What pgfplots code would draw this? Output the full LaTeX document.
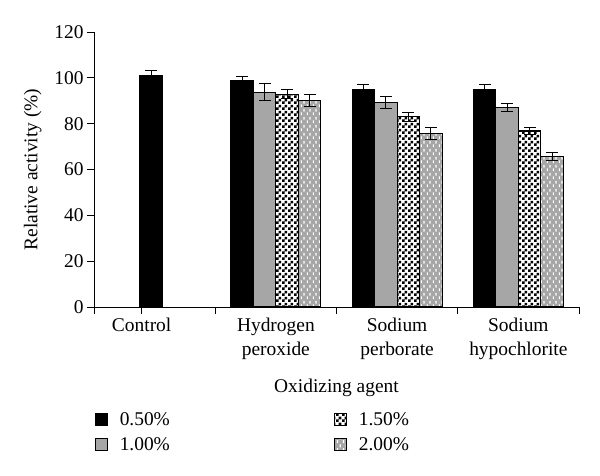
\documentclass[border=0pt]{standalone}
\usepackage{fontspec}
\setmainfont{Liberation Serif}
\usepackage{pgfplots}
\pgfplotsset{compat=1.18}
\usetikzlibrary{patterns}

\pgfdeclarepatternformonly{mychecker}{\pgfpointorigin}{\pgfpoint{6bp}{6bp}}{\pgfpoint{6bp}{6bp}}{%
 \pgfpathrectangle{\pgfpointorigin}{\pgfpoint{3bp}{3bp}}%
 \pgfpathrectangle{\pgfpoint{3bp}{3bp}}{\pgfpoint{3bp}{3bp}}%
 \pgfusepath{fill}}
\pgfdeclarepatternformonly{mydash}{\pgfpointorigin}{\pgfpoint{6bp}{8bp}}{\pgfpoint{6bp}{8bp}}{%
 \pgfpathrectangle{\pgfpoint{1bp}{1bp}}{\pgfpoint{1.3bp}{3bp}}%
 \pgfpathrectangle{\pgfpoint{4bp}{5bp}}{\pgfpoint{1.3bp}{3bp}}%
 \pgfusepath{fill}}

\definecolor{bargray}{HTML}{A6A6A6}
\newcommand{\chartfont}{\fontsize{19.5}{25}\selectfont}

\begin{document}
\begin{tikzpicture}
\useasboundingbox (-94bp,-169bp) rectangle (506bp,307bp);
\begin{axis}[
  scale only axis, width=485bp, height=275bp,
  xmin=-0.5, xmax=3.5, ymin=0, ymax=120,
  axis x line*=bottom, axis y line*=left,
  axis line style={line width=1bp},
  ytick={0,20,...,120},
  tick align=outside, major tick length=7bp,
  tick style={line width=1bp, black},
  xtick={-0.5,-0.107,0.5,1.5,2.5,3.5},
  xticklabels={},
  extra x ticks={-0.107,1,2,3},
  extra x tick labels={Control, Hydrogen\\peroxide, Sodium\\perborate, Sodium\\hypochlorite},
  extra x tick style={major tick length=0pt, tick label style={yshift=-7bp}},
  x tick label style={align=center, font=\chartfont},
  y tick label style={font=\chartfont},
  /pgf/number format/assume math mode=true,
  xlabel={Oxidizing agent}, ylabel={Relative activity (\%)},
  label style={font=\chartfont},
  xlabel style={yshift=-5bp},
  ylabel style={yshift=6bp},
  ybar, bar width=0.1856,
  error bars/y dir=both, error bars/y explicit,
  error bars/error bar style={line width=1bp, black},
  error bars/error mark options={rotate=90, mark size=6bp, line width=1bp, black},
  every axis plot/.append style={draw=black, line width=1.2bp},
  legend columns=2, transpose legend,
  legend style={at={(-0.005,-0.368)}, anchor=north west, draw=none, font=\chartfont,
    row sep=7bp,
    /tikz/every odd column/.append style={column sep=10bp},
    /tikz/every even column/.append style={column sep=162bp}},
  legend image code/.code={\draw[#1, line width=1bp] (0bp,-6bp) rectangle (12bp,6bp);},
]
\addplot[fill=black, bar shift=-0.2784] coordinates {
  (1,98.6) +- (0,2.0)
  (2,95.0) +- (0,2.3)
  (3,95.0) +- (0,2.3)
};
\addlegendentry{0.50\%}
\addplot[fill=bargray, bar shift=-0.0928] coordinates {
  (1,93.7) +- (0,3.8)
  (2,89.2) +- (0,2.6)
  (3,87.1) +- (0,1.8)
};
\addlegendentry{1.00\%}
\addplot[fill=white, postaction={pattern=mychecker, pattern color=black}, bar shift=0.0928] coordinates {
  (1,92.9) +- (0,1.8)
  (2,83.0) +- (0,2.0)
  (3,76.8) +- (0,1.7)
};
\addlegendentry{1.50\%}
\addplot[fill=bargray, postaction={pattern=mydash, pattern color=white}, bar shift=0.2784] coordinates {
  (1,90.0) +- (0,2.7)
  (2,75.8) +- (0,2.7)
  (3,65.6) +- (0,1.7)
};
\addlegendentry{2.00\%}
\addplot[fill=black, bar shift=-0.027, forget plot] coordinates {
  (0,100.8) +- (0,2.3)
};
\end{axis}
\end{tikzpicture}
\end{document}
